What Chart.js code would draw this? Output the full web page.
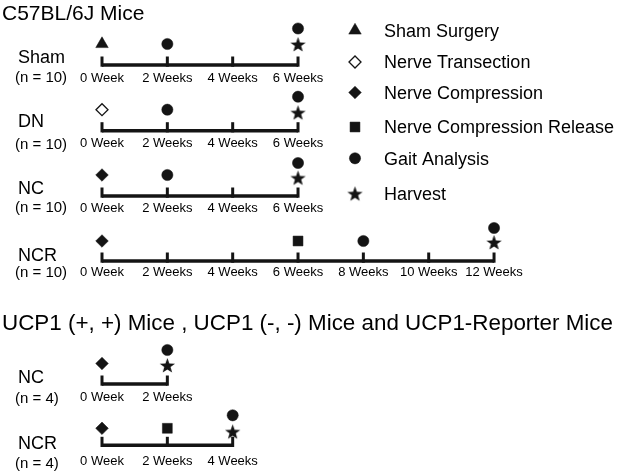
<!DOCTYPE html>
<html><head><meta charset="utf-8">
<script src="https://cdn.jsdelivr.net/npm/chart.js@4/dist/chart.umd.min.js"></script>
<style>html,body{margin:0;padding:0;background:#fff}canvas{display:block}</style>
</head><body>
<canvas id="c" width="622" height="474"></canvas>
<script>
// ---------------- data ----------------
const sectionTitles = ['C57BL/6J Mice', 'UCP1 (+, +) Mice , UCP1 (-, -) Mice and UCP1-Reporter Mice'];
const groupNames = ['Sham', 'DN', 'NC', 'NCR', 'NC', 'NCR'];
const groupSizes = ['(n = 10)', '(n = 10)', '(n = 10)', '(n = 10)', '(n = 4)', '(n = 4)'];
const studyLengthWeeks = [6, 6, 6, 12, 2, 4];
const tickWeeks = [[0, 2, 4, 6], [0, 2, 4, 6], [0, 2, 4, 6], [0, 2, 4, 6, 8, 10, 12], [0, 2], [0, 2, 4]];
const weekLabels = ['0 Week', '2 Weeks', '4 Weeks', '6 Weeks', '8 Weeks', '10 Weeks', '12 Weeks']; // for weeks 0,2,...,12
const shamSurgeryWeek = [0, null, null, null, null, null];
const nerveTransectionWeek = [null, 0, null, null, null, null];
const nerveCompressionWeek = [null, null, 0, 0, 0, 0];
const compressionReleaseWeek = [null, null, null, 6, null, 2];
const gaitAnalysisWeeks = [[2, 6], [2, 6], [2, 6], [8, 12], [2], [4]];
const harvestWeek = [6, 6, 6, 12, 2, 4];
const legendLabels = ['Sham Surgery', 'Nerve Transection', 'Nerve Compression', 'Nerve Compression Release', 'Gait Analysis', 'Harvest'];

// ---------------- layout / style ----------------
const W = 622, H = 474;
const X0_PX = 102, PX_PER_WEEK = 32.67;
const ROW_Y = [65, 130.7, 196, 261, 384, 445.3];
const TITLE_BASE = [19.5, 330];
const TITLE_SIZE = [21, 22.4];
const MARK_RISE = [21, 21, 21, 20, 20.5, 17];
const STAR_RISE = [20.5, 18, 18, 18.5, 18.5, 13.5];
const STACK_RISE = [36.5, 34, 33, 33, 34, 30];
const NAME_DY = [-8, -10, -8, -6, -7.5, -2.5];
const SIZE_DY = [12, 12.5, 11, 11, 14, 17.5];
const WEEK_DY = [12, 12, 11.3, 10, 12.5, 15.4];
const LEGEND_X = 355, LEGEND_TEXT_X = 384;
const LEGEND_Y = [30.5, 62, 92.5, 127, 158.3, 193.8];
const INK = '#141414';
const FONT = '"Liberation Sans", Arial, Helvetica, sans-serif';

// star marker (filled five-pointed star)
function makeStar(size, outer, inner) {
  const c = document.createElement('canvas');
  c.width = size; c.height = size;
  const g = c.getContext('2d');
  g.fillStyle = INK;
  g.beginPath();
  for (let i = 0; i < 10; i++) {
    const r = i % 2 === 0 ? outer : inner;
    const a = -Math.PI / 2 + i * Math.PI / 5;
    const px = size / 2 + r * Math.cos(a), py = size / 2 + 0.6 + r * Math.sin(a);
    if (i === 0) g.moveTo(px, py); else g.lineTo(px, py);
  }
  g.closePath(); g.fill();
  return c;
}
const starImg = makeStar(17, 8, 3.3);

const markerStyles = [
  { pointStyle: 'triangle', pointRadius: 7.2, pointBackgroundColor: INK, pointBorderColor: INK, pointBorderWidth: 0.5 },
  { pointStyle: 'rectRot', pointRadius: 6, pointBackgroundColor: '#fff', pointBorderColor: INK, pointBorderWidth: 1.3 },
  { pointStyle: 'rectRot', pointRadius: 6.3, pointBackgroundColor: INK, pointBorderColor: INK, pointBorderWidth: 0.5 },
  { pointStyle: 'rect', pointRadius: 7, pointBackgroundColor: INK, pointBorderColor: INK, pointBorderWidth: 0.5 },
  { pointStyle: 'circle', pointRadius: 5.6, pointBackgroundColor: INK, pointBorderColor: INK, pointBorderWidth: 0.5 },
  { pointStyle: starImg, pointRadius: 8 }
];

// ---------------- build datasets ----------------
function singleEvent(arr, rise) {
  const pts = [];
  arr.forEach((w, i) => { if (w !== null) pts.push({ x: w, y: ROW_Y[i] - rise[i] }); });
  return pts;
}
const gaitPts = [];
gaitAnalysisWeeks.forEach((ws, i) => ws.forEach(w => {
  gaitPts.push({ x: w, y: ROW_Y[i] - (w === harvestWeek[i] ? STACK_RISE[i] : MARK_RISE[i]) });
}));
const eventPoints = [
  singleEvent(shamSurgeryWeek, MARK_RISE),
  singleEvent(nerveTransectionWeek, MARK_RISE),
  singleEvent(nerveCompressionWeek, MARK_RISE),
  singleEvent(compressionReleaseWeek, MARK_RISE),
  gaitPts,
  singleEvent(harvestWeek, STAR_RISE)
];

const datasets = [];
eventPoints.forEach((pts, k) => {
  datasets.push(Object.assign({ label: legendLabels[k], data: pts, showLine: false, clip: false }, markerStyles[k]));
});
// tick marks (vertical short lines)
const tickPts = [];
tickWeeks.forEach((ws, i) => ws.forEach(w => tickPts.push({ x: w, y: ROW_Y[i] - 3.4 })));
datasets.push({ label: 'ticks', data: tickPts, showLine: false, clip: false, pointStyle: 'line', rotation: 90,
  pointRadius: 5.1, pointBorderWidth: 3, pointBorderColor: INK, pointBackgroundColor: INK });
// timeline bars
studyLengthWeeks.forEach((len, i) => {
  datasets.push({ label: 'bar' + i, data: [{ x: 0, y: ROW_Y[i] }, { x: len, y: ROW_Y[i] }], showLine: true,
    borderColor: INK, borderWidth: 3.5, pointRadius: 0, clip: false, tension: 0 });
});

// ---------------- text + legend plugin ----------------
function capText(ctx, txt, x, yCenter, size, align) {
  ctx.font = size + 'px ' + FONT;
  ctx.textAlign = align || 'left';
  ctx.textBaseline = 'alphabetic';
  ctx.fillText(txt, x, yCenter + 0.358 * size);
}
const textPlugin = {
  id: 'texts',
  afterDraw(chart) {
    const ctx = chart.ctx, xs = chart.scales.x;
    ctx.save();
    ctx.fillStyle = '#000';
    sectionTitles.forEach((t, s) => {
      ctx.font = TITLE_SIZE[s] + 'px ' + FONT;
      ctx.textAlign = 'left'; ctx.textBaseline = 'alphabetic';
      ctx.fillText(t, 2, TITLE_BASE[s]);
    });
    groupNames.forEach((n, i) => {
      capText(ctx, n, 18, ROW_Y[i] + NAME_DY[i], 18);
      capText(ctx, groupSizes[i], 15, ROW_Y[i] + SIZE_DY[i], 15);
      tickWeeks[i].forEach(w => {
        capText(ctx, weekLabels[w / 2], xs.getPixelForValue(w), ROW_Y[i] + WEEK_DY[i], 13, 'center');
      });
    });
    // legend
    legendLabels.forEach((lab, k) => {
      const st = markerStyles[k];
      ctx.fillStyle = st.pointBackgroundColor || INK;
      ctx.strokeStyle = st.pointBorderColor || INK;
      ctx.lineWidth = st.pointBorderWidth || 0;
      Chart.helpers.drawPoint(ctx, { pointStyle: st.pointStyle, radius: st.pointRadius,
        borderWidth: st.pointBorderWidth || 0, rotation: 0 }, LEGEND_X, LEGEND_Y[k]);
      ctx.fillStyle = '#000';
      capText(ctx, lab, LEGEND_TEXT_X, LEGEND_Y[k], 18);
    });
    ctx.restore();
  }
};

new Chart(document.getElementById('c'), {
  type: 'scatter',
  data: { datasets },
  options: {
    responsive: false,
    animation: false,
    events: [],
    layout: { padding: 0, autoPadding: false },
    plugins: { legend: { display: false }, tooltip: { enabled: false } },
    scales: {
      x: { type: 'linear', display: false, min: -X0_PX / PX_PER_WEEK, max: (W - X0_PX) / PX_PER_WEEK },
      y: { type: 'linear', display: false, min: 0, max: H, reverse: true }
    }
  },
  plugins: [textPlugin]
});
</script>
</body></html>
